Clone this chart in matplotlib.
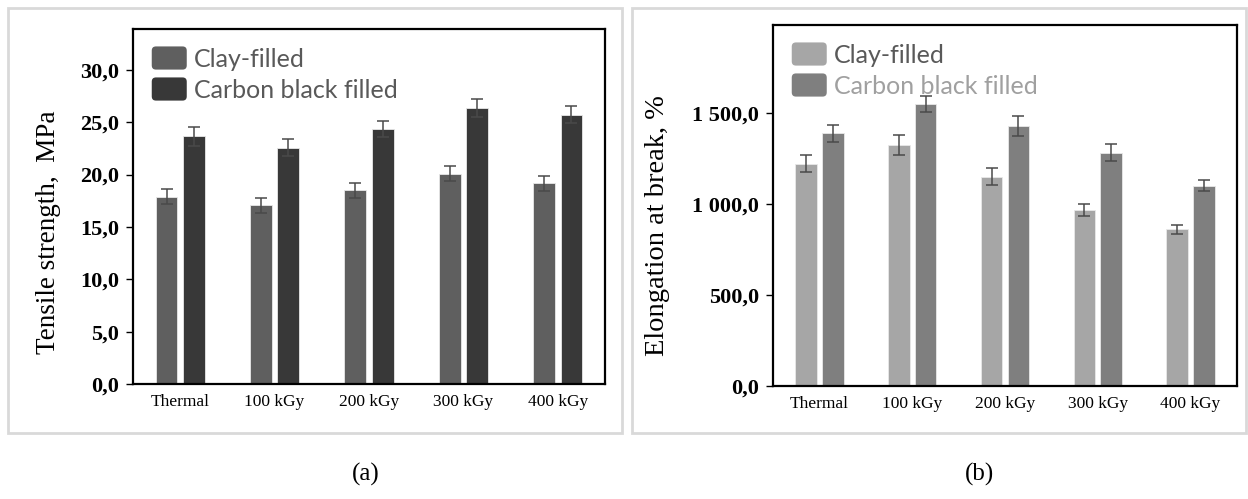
import matplotlib
matplotlib.use("Agg")
import matplotlib.pyplot as plt
import numpy as np
from matplotlib.patches import Rectangle, FancyBboxPatch
from matplotlib.legend_handler import HandlerPatch
from matplotlib.ticker import FuncFormatter

# DATA
categories = ["Thermal", "100 kGy", "200 kGy", "300 kGy", "400 kGy"]
series_names = ["Clay-filled", "Carbon black filled"]

tensile_clay = [17.9, 17.05, 18.5, 20.1, 19.15]
tensile_clay_err = [0.7, 0.7, 0.7, 0.7, 0.75]
tensile_carbon = [23.65, 22.55, 24.35, 26.35, 25.7]
tensile_carbon_err = [0.9, 0.8, 0.8, 0.9, 0.8]

elong_clay = [1221, 1325, 1150, 968, 862]
elong_clay_err = [47, 55, 47, 33, 26]
elong_carbon = [1390, 1551, 1432, 1283, 1102]
elong_carbon_err = [47, 46, 55, 48, 31]

SERIF = "Liberation Serif"
SANS = ["Lato", "DejaVu Sans"]


class RoundHandler(HandlerPatch):
    # legend swatch with rounded corners
    def create_artists(self, legend, orig_handle, xdescent, ydescent,
                       width, height, fontsize, trans):
        p = FancyBboxPatch((-xdescent, -ydescent - 0.15 * height), width, height * 1.3,
                           boxstyle="round,pad=0,rounding_size=3",
                           facecolor=orig_handle.get_facecolor(),
                           edgecolor="none", transform=trans)
        return [p]


def comma_fmt(v, pos):
    s = f"{v:,.1f}"
    return s.replace(",", " ").replace(".", ",")


def draw_panel(ax, clay, clay_err, carbon, carbon_err, colors, text_colors, ymax, step):
    x = np.arange(len(categories))
    w = 0.232
    off = 0.145
    err_kw = dict(ecolor="#4a4a4a", elinewidth=1.1, capsize=4.5, capthick=1.1)
    b1 = ax.bar(x - off, clay, w, yerr=clay_err, color=colors[0],
                edgecolor="#e8e8e8", linewidth=0.6, error_kw=err_kw, label=series_names[0])
    b2 = ax.bar(x + off, carbon, w, yerr=carbon_err, color=colors[1],
                edgecolor="#e8e8e8", linewidth=0.6, error_kw=err_kw, label=series_names[1])
    ax.set_xlim(-0.5, 4.5)
    ax.set_ylim(0, ymax)
    ax.set_yticks(np.arange(0, ymax, step))
    ax.yaxis.set_major_formatter(FuncFormatter(comma_fmt))
    ax.set_xticks(x)
    ax.set_xticklabels(categories, fontfamily=SERIF, fontsize=12.5)
    ax.tick_params(axis="x", length=0, pad=7)
    ax.tick_params(axis="y", direction="out", length=5, width=1, pad=5)
    for lab in ax.get_yticklabels():
        lab.set_fontfamily(SERIF)
        lab.set_fontweight("bold")
        lab.set_fontsize(16)
    for sp in ax.spines.values():
        sp.set_linewidth(1.6)
        sp.set_color("black")

    leg = ax.legend(handles=[b1.patches[0], b2.patches[0]], labels=series_names,
                    loc="upper left", bbox_to_anchor=(0.0, 1.0), frameon=False,
                    prop={"family": SANS, "size": 18}, handlelength=1.4, handleheight=0.72,
                    handletextpad=0.3, labelspacing=0.32, borderaxespad=0.35,
                    handler_map={b1.patches[0]: RoundHandler(), b2.patches[0]: RoundHandler()})
    for t, c in zip(leg.get_texts(), text_colors):
        t.set_color(c)
    return ax


fig = plt.figure(figsize=(12.48, 4.99), dpi=100)

# light gray frames around each panel
fig.add_artist(Rectangle((8 / 1248, 1 - 433 / 499), 614 / 1248, 425 / 499,
                         transform=fig.transFigure, fill=False,
                         edgecolor="#d9d9d9", linewidth=2))
fig.add_artist(Rectangle((632 / 1248, 1 - 433 / 499), 614 / 1248, 425 / 499,
                         transform=fig.transFigure, fill=False,
                         edgecolor="#d9d9d9", linewidth=2))

ax1 = fig.add_axes([133 / 1248, 1 - 384 / 499, 472 / 1248, 355 / 499])
draw_panel(ax1, tensile_clay, tensile_clay_err, tensile_carbon, tensile_carbon_err,
           ["#5f5f5f", "#383838"], ["#595959", "#595959"], 33.9, 5)
ax1.set_ylabel("Tensile strength,  MPa", fontfamily=SERIF, fontsize=19.5, va="center")
ax1.yaxis.set_label_coords(-0.18, 0.428)

ax2 = fig.add_axes([773 / 1248, 1 - 386 / 499, 464 / 1248, 361 / 499])
draw_panel(ax2, elong_clay, elong_clay_err, elong_carbon, elong_carbon_err,
           ["#a6a6a6", "#7f7f7f"], ["#595959", "#a0a0a0"], 1985, 500)
ax2.set_ylabel("Elongation at break, %", fontfamily=SERIF, fontsize=20.5, va="center")
ax2.yaxis.set_label_coords(-0.248, 0.445)

fig.text(366 / 1248, 1 - 474 / 499, "(a)", fontfamily=SERIF, fontsize=18,
         ha="center", va="center")
fig.text(980 / 1248, 1 - 474 / 499, "(b)", fontfamily=SERIF, fontsize=18,
         ha="center", va="center")

fig.savefig("out.png", dpi=100)
